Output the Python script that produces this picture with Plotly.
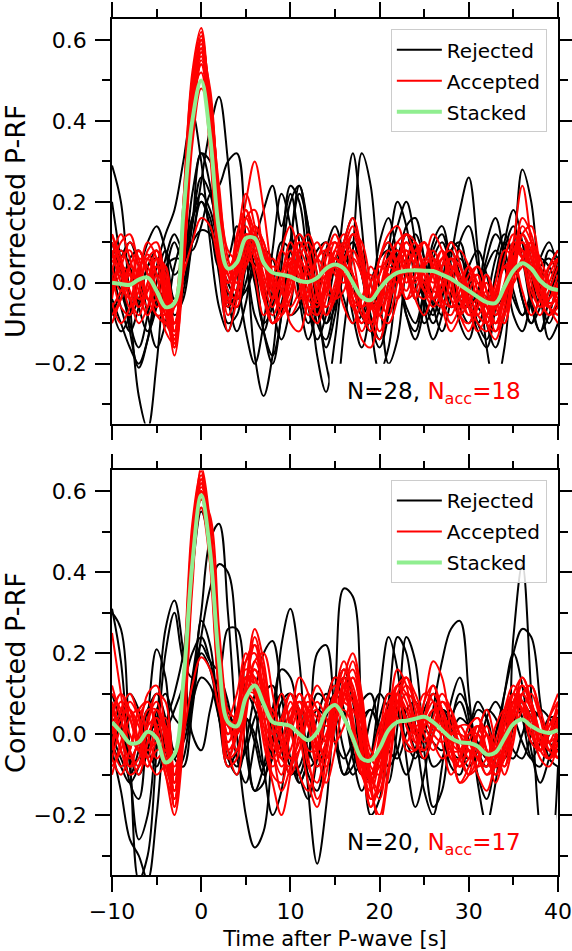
import plotly.graph_objects as go

FONT = "DejaVu Sans"

# time axis (s after P-wave)
time_s = list(range(-10, 41))

# stacked receiver functions
stack_uncorr = [0.00, -0.003, -0.005, 0.008, 0.013, -0.02, -0.06, -0.05, 0.17, 0.40, 0.50,
                0.36, 0.13, 0.035, 0.05, 0.11, 0.11, 0.05, 0.025, 0.02, 0.015,
                0.005, 0.002, 0.012, 0.035, 0.045, 0.035, 0.0, -0.035, -0.043, -0.015,
                0.01, 0.025, 0.03, 0.031, 0.03, 0.029, 0.02, 0.01, -0.005, -0.02,
                -0.035, -0.048, -0.05, -0.01, 0.03, 0.048, 0.035, 0.005, -0.012, -0.018]

stack_corr = [0.03, 0.005, -0.022, -0.02, 0.006, -0.01, -0.07, -0.05, 0.13, 0.42, 0.59,
              0.45, 0.18, 0.03, 0.02, 0.09, 0.12, 0.075, 0.03, 0.025, 0.02,
              0.0, -0.015, 0.005, 0.055, 0.072, 0.04, -0.01, -0.06, -0.065, -0.035,
              0.01, 0.03, 0.033, 0.038, 0.043, 0.03, 0.01, -0.01, -0.02, -0.022,
              -0.03, -0.05, -0.045, -0.01, 0.025, 0.036, 0.02, 0.008, 0.003, 0.01]

# rejected traces, uncorrected
rej_uncorr = [
    [.29,.20,-.05,-.28,-.36,-.20,.02,.10,.05,.15,.32, .30,.12,-.04,-.12,-.05,.06,.00,-.10,-.05,.08, .12,.04,-.10,-.14,-.04,.10,.16,.06,-.08,-.14, -.06,.06,.12,.06,-.04,-.08,.00,.10,.08,-.04, -.12,-.16,-.06,.08,.14,.06,-.06,-.12,-.04,.04],
    [.20,.05,-.10,-.16,-.08,.04,.12,.18,.30,.42,.30, .10,-.06,-.12,-.02,.10,.04,-.12,-.20,-.08,.10, .24,.14,-.04,-.10,-.02,.06,.02,-.08,-.12,-.04, .08,.20,.14,.00,-.10,-.06,.04,.08,.02,-.06, -.10,-.04,.06,.12,.06,-.04,-.10,-.02,.08,.06],
    [.04,-.06,-.12,-.06,.04,.06,-.04,-.10,-.02,.10,.25, .38,.46,.30,.04,-.12,-.20,-.10,.08,.22,.14, -.04,-.14,-.06,.08,.14,.06,-.08,-.16,-.06,.10, .16,.06,-.08,-.12,-.02,.10,.14,.04,-.10,-.14, -.04,.10,.16,.06,-.08,-.12,-.04,.06,.10,.02],
    [-.02,.06,.10,.04,-.08,-.16,-.10,.04,.10,.08,.14, .22,.24,.30,.32,.10,-.18,-.28,-.18,.04,.20, .24,.10,-.06,-.16,-.08,.06,.10,.02,-.10,-.16, -.08,.04,.12,.08,-.04,-.10,-.04,.08,.10,.00, -.10,-.14,-.04,.10,.18,.10,-.04,-.12,-.08,.02],
    [.10,.02,-.12,-.21,-.14,.00,.08,.02,.06,.22,.32, .24,.06,-.06,-.02,.06,.02,-.12,-.18,-.08,.10, .22,.14,-.04,-.20,-.28,-.12,.08,.32,.24,-.02, -.20,-.14,.04,.12,.06,-.06,-.12,-.04,.10,.14, .04,-.10,-.16,-.08,.06,.12,.06,-.04,-.10,-.04],
    [-.06,-.12,-.08,.02,.10,.14,.08,-.04,.00,.14,.26, .22,.10,.00,.04,.08,.00,-.10,-.06,.08,.24, .20,.02,-.18,-.27,-.14,.04,.12,.06,-.04,-.08, .00,.08,.04,-.04,.00,.06,.02,-.06,-.04,.04, .08,.02,-.06,-.02,.08,.28,.20,-.02,-.14,-.10],
    [-.04,-.10,-.16,-.20,-.14,-.04,.04,.06,.06,.10,.13, .12,.06,.00,-.04,-.02,.04,.08,.06,-.02,-.08, -.06,.02,.08,.10,.04,-.04,-.10,-.08,.00,.06, .08,.02,-.06,-.10,-.02,.06,.10,.04,-.04,-.06, -.02,.04,.08,.04,-.04,-.08,-.02,.06,.04,-.02],
    [.00,.08,.04,-.06,-.12,-.06,.06,.12,.08,.16,.20, .14,.04,.06,.14,.06,-.08,-.12,-.02,.10,.08, -.02,-.10,-.04,.08,.06,.18,.32,.14,-.10,-.22, -.16,.02,.14,.16,.06,-.04,-.08,-.02,.06,.02, -.06,-.08,.02,.10,.06,-.04,-.10,-.06,.04,.08],
    [.04,-.02,-.08,-.04,.04,.08,.02,-.08,-.04,.10,.20, .16,.02,-.10,-.08,.04,.12,.06,-.06,-.14,-.06, .08,.12,.02,-.10,-.06,.06,.10,.02,-.06,-.02, .06,.14,.20,.10,-.06,-.14,-.08,.06,.18,.26, .08,-.16,-.26,-.16,.04,.10,.02,-.06,-.02,.06],
    [-.08,-.02,.06,.08,.02,-.04,-.02,-.04,.04,.16,.22, .18,.08,-.02,-.06,.00,.10,.18,.24,.14,.22, .10,-.06,-.14,-.08,.04,.08,.00,-.08,-.04,.06, .10,.04,-.08,-.14,-.06,.08,.12,.04,-.06,-.10, -.04,.06,.12,.08,-.02,-.08,-.04,.04,.06,.02],
]

# accepted traces, uncorrected
acc_uncorr = [
    [.05,.08,.03,-.04,-.02,.04,-.06,-.14,.10,.45,.60, .42,.12,-.05,.02,.12,.10,.02,-.04,.00,.05, .08,.03,-.05,-.02,.06,.10,.02,-.08,-.10,-.02, .06,.08,.04,.01,.05,.08,.03,-.04,-.08,-.05, -.02,-.08,-.10,-.02,.08,.12,.06,-.02,-.05,-.04],
    [-.05,-.10,-.06,.03,.07,.02,-.08,-.12,.20,.52,.63, .40,.10,-.08,-.02,.10,.14,.08,-.02,-.06,.02, .10,.06,-.03,-.08,-.02,.08,.12,.04,-.06,-.08, .00,.06,.10,.06,-.02,-.04,.04,.10,.05,-.04, -.10,-.12,-.04,.06,.12,.06,-.04,-.08,-.02,.04],
    [.12,.06,-.02,-.06,.00,.08,.02,-.16,.05,.38,.55, .45,.18,.00,.04,.14,.08,-.04,-.10,-.06,.04, .12,.08,-.02,-.06,.00,.10,.16,.08,-.04,-.12, -.06,.04,.12,.10,.02,-.04,-.06,.02,.08,.04, -.04,-.06,-.12,-.08,.04,.14,.10,.00,-.06,-.02],
    [.00,.04,.10,.06,-.04,-.08,-.10,-.06,.18,.46,.58, .36,.06,-.12,-.04,.16,.18,.06,-.04,.02,.10, .04,-.06,-.04,.06,.12,.06,-.04,-.12,-.06,.06, .10,.04,-.04,.02,.10,.06,-.04,-.10,-.06,.00, .04,-.02,-.10,-.04,.10,.24,.10,-.04,-.08,-.06],
    [.08,.02,-.06,-.02,.08,.10,-.02,-.18,.02,.40,.57, .48,.20,.04,.08,.20,.30,.18,.02,-.06,-.02, .04,-.02,-.06,.02,.10,.06,-.04,-.14,-.16,-.06, .04,.10,.12,.06,-.02,-.06,-.02,.06,.04,-.06, -.12,-.08,.00,.08,.06,-.02,-.08,-.04,.04,.08],
    [-.08,-.04,.04,.08,.02,-.06,-.04,-.10,.12,.44,.61, .44,.14,.02,.08,.10,.02,-.08,-.04,.08,.14, .06,-.06,-.10,-.04,.04,.02,-.06,-.10,-.04,.06, .12,.14,.06,-.04,-.08,-.02,.06,.08,.00,-.08, -.06,.02,-.04,-.10,.00,.12,.14,.04,-.06,-.10],
    [.03,.10,.12,.04,-.04,-.02,-.12,-.15,.08,.42,.54, .38,.10,-.06,.04,.18,.12,-.02,-.10,-.06,.02, .06,.02,.06,.10,.04,-.06,-.10,-.04,.02,-.04, -.08,.00,.08,.04,-.02,.02,.08,.02,-.08,-.10, -.04,.02,-.06,-.10,.04,.16,.12,.02,-.04,.00],
    [-.03,.02,-.04,-.10,-.06,.04,.02,-.12,.14,.48,.59, .40,.12,-.02,-.04,.06,.14,.10,.02,-.02,-.08, -.04,.06,.10,.04,-.04,-.02,.06,.02,-.10,-.14, -.04,.06,.02,-.04,.04,.12,.08,-.02,-.06,-.02, .02,-.10,-.14,-.06,.06,.10,.04,-.04,.00,.06],
    [.10,.04,.00,.06,.04,-.04,-.08,-.16,.06,.36,.50, .44,.22,.06,.00,.04,.08,.06,.00,-.06,-.02, .08,.12,.06,-.02,-.04,.04,.02,-.06,-.10,-.04, .04,.02,-.02,.06,.10,.04,-.04,-.06,.00,.04, -.02,-.10,-.06,.04,.02,.04,.08,.02,-.06,-.08],
    [-.06,-.02,.04,.02,-.04,-.02,.04,-.06,.02,.10,.16, .14,.04,-.04,.02,.06,.04,-.04,-.08,-.02,.06, .04,-.04,-.06,.00,.06,.04,-.02,-.06,-.04,.02, .06,.02,-.04,-.02,.04,.06,.00,-.06,-.04,.02, .04,-.02,-.08,-.04,.06,.08,.02,-.04,-.06,-.02],
    [.06,.12,.06,-.02,-.08,-.04,-.10,-.13,.16,.50,.62, .38,.06,-.04,.06,.12,.06,.00,.04,.02,-.06, -.02,.04,.00,-.06,-.02,.06,.08,.02,-.06,-.04, .02,.00,.04,.08,.04,-.02,-.02,.04,.02,-.06, -.08,-.04,-.08,-.02,.10,.08,.00,-.06,-.04,.02],
    [-.10,-.04,.02,.00,.06,.08,-.04,-.12,.10,.44,.56, .42,.16,.00,.08,.16,.10,.04,.06,.00,-.10, -.12,-.04,.06,.08,.02,.00,.08,.04,-.06,-.06, .04,.08,.02,.00,.06,.04,-.06,-.12,-.08,.00, .02,-.06,-.02,.04,.00,.06,.10,.04,.00,-.04],
    [.02,-.06,-.08,.02,.10,.06,-.06,-.14,.04,.40,.60, .46,.18,.04,.00,.08,.14,.10,.00,-.08,-.04, .06,.10,.02,-.08,-.04,.08,.14,.06,-.04,-.08, -.02,.06,.08,.04,.00,.02,.06,.00,-.08,-.12, -.06,.00,-.06,.00,.08,.06,-.02,-.06,.02,.06],
    [.08,.00,-.04,.04,.06,-.02,-.10,-.10,.20,.50,.58, .34,.08,.00,.10,.22,.14,.00,-.06,.02,.08, .00,-.08,-.02,.08,.10,.02,-.06,-.04,.04,.00, -.04,.04,.10,.06,.00,-.04,-.02,.04,.00,-.06, -.04,-.10,-.12,-.02,.06,.10,.06,-.02,-.06,-.08],
    [-.02,.06,.08,.00,-.06,.02,-.02,-.15,.06,.42,.57, .44,.14,-.04,-.06,.06,.10,.06,.02,.08,.04, -.04,-.02,.06,.02,-.04,.04,.12,.10,.00,-.08, -.10,-.04,.06,.10,.04,.00,.04,.06,.00,-.04, .00,-.06,-.10,-.08,.04,.12,.08,-.02,-.06,.00],
    [.04,-.02,.00,.08,.02,-.08,-.08,-.12,.12,.46,.52, .32,.06,.00,.12,.18,.08,-.02,-.10,-.08,.00, .06,.00,-.08,-.02,.08,.12,.06,-.06,-.12,-.04, .04,.10,.06,-.02,-.04,.04,.08,.04,-.04,-.08, -.06,-.02,-.08,-.04,.06,.10,.04,.00,.04,.06],
    [-.04,.04,.02,-.06,-.02,.06,.00,-.14,.08,.38,.54, .46,.20,.02,-.02,.04,.10,.08,-.02,-.06,.04, .10,.06,.00,.02,.08,.04,-.04,-.10,-.06,.02, .08,.04,.00,.04,.02,-.04,.00,.06,.04,-.02, -.08,-.10,-.02,.04,.06,.08,.04,-.04,-.08,-.04],
    [.12,.04,-.04,-.08,.00,.06,.04,-.10,.04,.34,.48, .42,.24,.08,.06,.10,.12,.06,-.02,.02,.06, .02,-.06,-.08,.00,.06,.02,-.04,-.06,.00,.04, .02,-.04,.02,.08,.10,.02,-.06,-.08,-.02,.04, .00,-.04,-.10,-.04,.02,.06,.10,.06,.00,-.06],
]

# rejected traces, corrected
rej_corr = [
    [.31,.18,-.08,-.26,-.20,.02,.26,.33,.20,.00,-.04, .06,.14,.08,-.06,-.12,-.02,.10,.12,.02,-.08, -.10,.00,.10,.08,-.02,-.10,-.04,.08,.10,.00, -.08,-.04,.06,.08,.00,-.08,-.06,.04,.08,.02, -.06,-.08,.00,.06,.04,-.02,-.06,-.02,.04,.04],
    [.30,.26,-.05,-.36,-.30,-.04,.20,.30,.18,.14,.28, .22,.04,-.08,-.04,.04,.00,-.08,-.02,.08,.10, .02,-.08,-.06,.04,.10,.06,-.04,-.10,-.06,.04, .10,.06,-.02,-.06,.00,.06,.04,-.04,-.06,.00, .06,.04,-.04,-.06,.02,.08,.04,-.02,-.04,.00],
    [-.04,-.14,-.26,-.30,-.36,-.20,.02,.10,.20,.40,.55, .46,.22,.06,.02,.04,-.02,-.10,-.06,.04,.10, .06,-.04,-.08,-.02,.08,.14,.10,-.02,-.10,-.06, .04,.10,.04,-.04,-.06,.00,.06,.04,-.04,-.08, -.04,.04,.08,.04,-.04,-.06,.00,.06,.04,-.02],
    [.06,.02,-.06,-.10,-.04,.06,.10,.04,.02,.14,.30, .48,.52,.30,.00,-.20,-.28,-.24,-.02,.22,.31, .18,-.14,-.32,-.18,.10,.36,.34,.04,-.20,-.16, .00,.08,.04,-.04,-.04,.02,.06,.02,-.04,-.06, .00,.06,.04,-.04,-.06,.00,.06,.04,-.02,-.04],
    [.00,-.06,-.10,-.04,.06,.10,.04,-.06,-.08,.06,.24, .36,.42,.40,.22,-.04,-.14,-.08,.06,.16,.14, .02,-.10,-.14,-.04,.10,.16,.08,-.06,-.12,-.04, .08,.24,.20,.02,-.14,-.20,-.08,.08,.14,.04, -.10,-.16,-.06,.10,.20,.12,-.04,-.12,-.06,.02],
    [-.02,-.08,-.12,-.08,.00,.02,-.04,-.06,.00,.08,.14, .12,.04,-.04,-.08,-.04,.04,.08,.04,-.04,-.10, -.08,.00,.06,.04,-.02,-.06,-.02,.04,.06,.02, -.04,-.06,.00,.04,.02,-.02,-.04,.00,.04,.02, -.02,-.06,-.04,.04,.08,.04,-.02,-.04,.00,.02],
    [.10,.02,-.12,-.16,.04,.21,.14,-.04,-.02,.10,.22, .18,.16,.26,.26,.04,-.14,-.12,.04,.10,.02, -.10,-.16,-.06,.08,.14,.06,-.06,-.14,-.06,.10, .24,.16,-.06,-.18,-.10,.06,.18,.26,.28,.10, -.12,-.22,-.12,.04,.10,.04,-.06,-.08,.00,.04],
    [.04,.00,-.06,-.02,.06,.04,-.04,-.10,-.06,.08,.20, .16,.04,-.06,-.10,-.02,.10,.20,.23,.10,-.06, -.12,-.06,.04,.10,.06,-.04,-.10,-.06,.04,.10, .06,-.04,-.10,-.04,.06,.10,.02,-.08,-.10,.00, .08,.04,-.08,-.06,.24,.42,.10,-.24,-.34,-.08],
    [-.06,.04,.10,.06,-.04,-.08,.00,.06,.12,.20,.24, .18,.08,.00,.04,.10,.06,-.08,-.20,-.14,.04, -.12,-.06,.20,.22,.04,-.10,-.08,.02,.06,.00, -.12,.02,.24,.18,-.04,-.18,-.14,.02,.10,.06, -.04,-.08,.00,.10,.20,.26,.24,.08,-.06,-.08],
]

# accepted traces, corrected
acc_corr = [
    [-.06,.02,.08,.04,-.06,-.10,-.08,-.14,.06,.42,.62, .50,.22,.02,.04,.14,.16,.08,-.02,-.06,.00, .06,.02,-.06,-.02,.10,.14,.04,-.10,-.14,-.06, .06,.12,.08,.02,.04,.08,.02,-.06,-.08,-.04, -.06,-.10,-.06,.04,.10,.06,-.02,-.04,.04,.08],
    [.04,-.04,-.08,.00,.10,.12,.00,-.16,.00,.40,.66, .52,.18,-.06,-.04,.10,.24,.14,-.04,-.10,.02, .14,.10,-.04,-.12,-.04,.10,.18,.08,-.10,-.16, -.02,.10,.14,.06,-.02,.02,.08,.04,-.06,-.10, -.08,.00,-.04,-.08,.04,.12,.08,.00,-.04,.02],
    [.12,.04,-.04,-.08,-.02,.06,.02,-.12,.10,.46,.60, .44,.16,.00,.06,.18,.20,.06,-.10,-.12,.02, .10,.04,-.08,-.04,.08,.16,.10,-.06,-.18,-.12, .02,.10,.06,.00,.04,.10,.06,-.04,-.08,-.02, .02,-.04,-.10,-.06,.06,.14,.08,-.04,-.06,.04],
    [-.02,.06,.10,.04,-.04,-.02,-.10,-.20,-.02,.36,.58, .54,.26,.04,-.04,.06,.18,.20,.10,-.02,-.10, -.04,.06,.12,.08,.04,.08,.14,.06,-.12,-.22, -.10,.06,.14,.10,.04,.00,-.02,.00,.02,-.02, -.06,-.08,-.02,.06,.10,.08,.02,-.06,-.08,-.02],
    [.08,.00,-.08,-.06,.04,.08,-.02,-.18,.04,.44,.63, .48,.14,-.08,-.06,.12,.26,.18,.02,-.08,-.04, .02,-.06,-.16,-.10,.06,.16,.12,.02,-.08,-.10, .00,.08,.04,.00,.08,.18,.14,.00,-.12,-.10, .00,.06,-.02,-.10,-.02,.10,.12,.06,.00,.04],
    [-.08,-.04,.04,.06,.00,-.06,-.04,-.08,.00,.12,.19, .16,.06,-.02,.02,.10,.08,.00,-.06,-.02,.06, .08,.02,-.04,.00,.06,.04,-.02,-.08,-.06,.02, .06,.04,-.02,-.04,.02,.06,.02,-.04,-.04,.02, .04,.00,-.04,-.02,.04,.06,.04,.00,-.02,.00],
    [.00,.08,.04,-.04,-.08,-.02,-.06,-.16,.12,.50,.64, .46,.12,-.02,.04,.16,.14,.04,.04,.10,.02, -.10,-.14,-.04,.08,.12,.08,.06,.00,-.10,-.08, .04,.12,.10,.02,-.04,.00,.04,.02,-.02,-.04, -.10,-.14,-.06,.06,.12,.08,.00,-.04,.04,.10],
    [.06,.10,.04,-.02,.00,.04,.00,-.12,.08,.44,.56, .42,.16,.04,.10,.20,.12,-.02,-.12,-.20,-.10, .04,.10,.06,-.02,.02,.10,.08,-.04,-.16,-.14, -.02,.08,.06,-.02,-.04,.04,.10,.06,-.04,-.10, -.06,.00,-.06,.00,.06,.08,.02,-.04,.02,.06],
    [-.06,-.10,-.04,.04,.08,.02,-.08,-.14,.04,.40,.60, .50,.20,-.04,-.10,.04,.18,.12,.00,.02,.08, .00,-.12,-.18,-.06,.10,.18,.10,-.04,-.12,-.04, .08,.10,.02,-.04,.04,.12,.06,-.04,-.12,-.08, .00,-.04,-.12,-.04,.08,.12,.06,-.02,-.06,.00],
    [.25,.10,-.04,-.10,-.02,.06,.00,-.14,.10,.48,.62, .44,.10,-.06,.02,.14,.12,.02,-.04,.02,.10, .06,-.04,-.04,.06,.14,.12,.02,-.10,-.12,-.02, .06,.04,-.02,.04,.10,.08,-.02,-.10,-.06,.02, .04,-.04,-.10,-.02,.08,.06,.00,-.04,.00,.08],
    [.02,-.04,-.10,-.08,.02,.10,.08,-.10,.06,.42,.58, .48,.18,.02,.00,.08,.16,.12,.04,-.02,-.06, -.02,.04,.08,.04,-.02,.02,.10,.04,-.10,-.14, -.04,.08,.12,.08,.00,-.04,.00,.04,.00,-.06, -.04,.02,-.04,-.08,.00,.10,.12,.04,-.04,-.06],
    [-.04,.04,.06,-.02,-.08,-.04,-.04,-.18,.02,.38,.61, .52,.22,.06,.04,.12,.22,.16,.02,-.04,.02, .08,.06,-.02,-.06,.02,.12,.16,.06,-.06,-.08, .02,.12,.14,.08,.02,-.02,-.06,-.04,.02,.02, -.04,-.10,-.08,.02,.10,.14,.08,-.02,-.06,-.02],
    [.10,.06,.00,-.04,.02,.04,-.06,-.12,.14,.52,.65, .42,.10,-.04,.00,.10,.10,.04,-.04,-.14,-.08, .04,.08,.00,-.06,.02,.10,.14,.04,-.14,-.20, -.08,.06,.10,.04,.02,.06,.06,-.02,-.08,-.06, .02,.00,-.08,-.06,.04,.10,.06,-.02,-.02,.04],
    [-.02,-.08,-.04,.06,.08,.00,-.10,-.16,.08,.46,.60, .44,.14,.00,.06,.14,.10,.00,-.08,-.04,.04, .10,.06,-.04,-.08,.02,.14,.20,.10,-.04,-.06, .04,.16,.12,.00,-.06,.00,.08,.06,.00,-.04, -.08,-.06,.02,.06,.02,.06,.10,.04,-.02,-.06],
    [.06,.00,-.06,-.02,.06,.06,-.02,-.14,.06,.40,.56, .46,.20,.04,.02,.10,.14,.08,.06,.00,-.06, -.04,.04,.06,.02,.04,.06,.02,-.08,-.18,-.10, .06,.10,.02,-.02,.04,.10,.06,-.02,-.04,.00, .00,-.06,-.10,-.04,.06,.10,.06,.00,.02,.06],
    [-.10,-.02,.06,.02,-.04,.00,.04,-.10,.10,.48,.63, .46,.12,-.06,.00,.18,.22,.10,.00,.04,.10, .04,-.08,-.12,-.02,.10,.10,.00,-.10,-.10,.00, .10,.08,-.04,-.04,.08,.12,.04,-.06,-.06,.00, .02,-.04,-.08,-.02,.06,.08,.04,-.02,.00,.06],
    [.04,.10,.06,-.02,-.06,.02,.02,-.12,.04,.42,.60, .50,.22,.04,.02,.12,.16,.10,.02,-.06,-.08, .00,.06,.04,-.02,.04,.12,.10,-.02,-.16,-.12, .00,.06,.10,.08,.04,.02,.00,.00,.00,-.02, -.06,-.08,-.04,.02,.08,.12,.08,.00,-.06,-.04],
]

panel_titles = ["Uncorrected P-RF", "Corrected P-RF"]
n_total = [28, 20]
n_accepted = [18, 17]
legend_labels = ["Rejected", "Accepted", "Stacked"]

for arr in [stack_uncorr, stack_corr] + rej_uncorr + acc_uncorr + rej_corr + acc_corr:
    assert len(arr) == len(time_s), len(arr)

fig = go.Figure()
panels = [
    (rej_uncorr, acc_uncorr, stack_uncorr, "x", "y", "legend"),
    (rej_corr, acc_corr, stack_corr, "x2", "y2", "legend2"),
]
for rej, acc, stk, xa, ya, lg in panels:
    for i, tr in enumerate(rej):
        fig.add_trace(go.Scatter(
            x=time_s, y=tr, mode="lines", name=legend_labels[0],
            line=dict(color="#000000", width=2.0, shape="spline", smoothing=1.0),
            legendgroup="rej_" + lg, showlegend=(i == 0), legend=lg,
            xaxis=xa, yaxis=ya, hoverinfo="skip"))
    for i, tr in enumerate(acc):
        fig.add_trace(go.Scatter(
            x=time_s, y=tr, mode="lines", name=legend_labels[1],
            line=dict(color="#ff0000", width=2.0, shape="spline", smoothing=1.0),
            legendgroup="acc_" + lg, showlegend=(i == 0), legend=lg,
            xaxis=xa, yaxis=ya, hoverinfo="skip"))
    fig.add_trace(go.Scatter(
        x=time_s, y=stk, mode="lines", name=legend_labels[2],
        line=dict(color="#90ee90", width=4.0, shape="spline", smoothing=1.0),
        legendgroup="stk_" + lg, showlegend=True, legend=lg,
        xaxis=xa, yaxis=ya, hoverinfo="skip"))

tickfont = dict(family=FONT, size=22, color="black")
common = dict(showline=True, linecolor="black", linewidth=1.5, mirror="allticks",
              ticks="outside", ticklen=15, tickwidth=1.5, tickcolor="black",
              showgrid=False, zeroline=False, tickfont=tickfont, automargin=False)
xminor = dict(ticks="outside", ticklen=8, tickwidth=1.5, tickcolor="black", dtick=5, tick0=0, showgrid=False)
yminor = dict(ticks="outside", ticklen=8, tickwidth=1.5, tickcolor="black", dtick=0.1, tick0=0, showgrid=False)

YR = [-0.348, 0.652]
top_dom = [0.5274, 1.0]
bot_dom = [0.0, 0.4728]

fig.update_layout(
    width=572, height=951,
    margin=dict(l=112, r=14, t=19, b=76, autoexpand=False),
    paper_bgcolor="white", plot_bgcolor="white",
    font=dict(family=FONT, color="black"),
    xaxis=dict(domain=[0, 1], anchor="y", range=[-10, 40], dtick=10, tick0=0,
               showticklabels=False, minor=xminor, **common),
    xaxis2=dict(domain=[0, 1], anchor="y2", range=[-10, 40], dtick=10, tick0=0,
                minor=xminor, ticklabelstandoff=1,
                title=dict(text="Time after P-wave [s]", font=dict(family=FONT, size=21), standoff=9),
                **common),
    yaxis=dict(domain=top_dom, anchor="x", range=YR, dtick=0.2, tick0=0, tickformat=".1f",
               minor=yminor, ticklabelstandoff=4,
               title=dict(text=panel_titles[0], font=dict(family=FONT, size=27), standoff=1),
               **common),
    yaxis2=dict(domain=bot_dom, anchor="x2", range=YR, dtick=0.2, tick0=0, tickformat=".1f",
                minor=yminor, ticklabelstandoff=4,
                title=dict(text=panel_titles[1], font=dict(family=FONT, size=27), standoff=1),
                **common),
    legend=dict(x=0.975, y=0.988, xanchor="right", yanchor="top",
                bgcolor="rgba(255,255,255,0.85)", bordercolor="#cccccc", borderwidth=1,
                font=dict(family=FONT, size=20), traceorder="grouped", tracegroupgap=2,
                itemwidth=45),
    legend2=dict(x=0.975, y=0.4614, xanchor="right", yanchor="top",
                 bgcolor="rgba(255,255,255,0.85)", bordercolor="#cccccc", borderwidth=1,
                 font=dict(family=FONT, size=20), traceorder="grouped", tracegroupgap=2,
                 itemwidth=45),
)

# white label boxes and N counts
for k, (xr, yr) in enumerate([("x", "y"), ("x2", "y2")]):
    fig.add_shape(type="rect", xref=xr, yref=yr, x0=14.4, x1=39.8, y0=YR[0] + 0.004, y1=-0.2,
                  fillcolor="white", line=dict(width=0), layer="above")
    fig.add_annotation(
        xref=xr, yref=yr, x=26.1, y=-0.272, xanchor="center", yanchor="middle", showarrow=False,
        text=f"N={n_total[k]}, <span style=\"color:#ff0000\">N<sub>acc</sub>={n_accepted[k]}</span>",
        font=dict(family=FONT, size=23, color="black"))

fig.write_html("out.html", config={"displayModeBar": False},
               post_script="document.body.style.margin='0px';")
